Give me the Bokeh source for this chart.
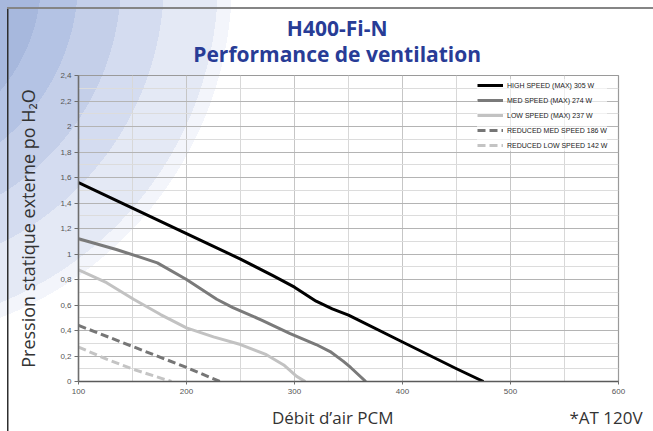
from bokeh.plotting import figure
from bokeh.models import Range1d, FixedTicker, Legend, LinearAxis
from bokeh.embed import file_html
from bokeh.resources import INLINE

# ---------------- data ----------------
title_1 = "H400-Fi-N"
title_2 = "Performance de ventilation"
x_label = "Débit d’air PCM"
y_label = "Pression statique externe po H₂O"
note = "*AT 120V"

x_ticks = [100, 200, 300, 400, 500, 600]
x_minor = [150, 250, 350, 450, 550]
y_ticks = [0, 0.2, 0.4, 0.6, 0.8, 1, 1.2, 1.4, 1.6, 1.8, 2, 2.2, 2.4]
y_tick_labels = ["0", "0,2", "0,4", "0,6", "0,8", "1", "1,2", "1,4", "1,6", "1,8", "2", "2,2", "2,4"]
y_minor = [0.1, 0.3, 0.5, 0.7, 0.9, 1.1, 1.3, 1.5, 1.7, 1.9, 2.1, 2.3]

high_name = "HIGH SPEED (MAX) 305 W"
high_x = [100, 150, 200, 250, 280, 300, 320, 335, 350, 400, 450, 475]
high_y = [1.56, 1.36, 1.16, 0.96, 0.83, 0.74, 0.63, 0.57, 0.52, 0.31, 0.10, 0.0]

med_name = "MED SPEED (MAX) 274 W"
med_x = [100, 135, 157, 173, 200, 228, 243, 270, 296, 320, 333, 345, 352, 366]
med_y = [1.12, 1.035, 0.975, 0.93, 0.80, 0.645, 0.58, 0.48, 0.375, 0.29, 0.235, 0.16, 0.11, 0.0]

low_name = "LOW SPEED (MAX) 237 W"
low_x = [100, 126, 151, 176, 200, 225, 250, 274, 290, 302, 310]
low_y = [0.875, 0.775, 0.645, 0.525, 0.42, 0.35, 0.29, 0.21, 0.13, 0.04, 0.0]

rmed_name = "REDUCED MED SPEED 186 W"
rmed_x = [100, 150, 200, 231]
rmed_y = [0.44, 0.275, 0.11, 0.0]

rlow_name = "REDUCED LOW SPEED 142 W"
rlow_x = [100, 126, 151, 186]
rlow_y = [0.27, 0.175, 0.095, 0.0]

# ---------------- figure ----------------
p = figure(width=653, height=431, output_backend="svg", toolbar_location=None,
           x_range=Range1d(100, 600), y_range=Range1d(0, 2.4),
           min_border_left=78, min_border_right=35, min_border_top=75, min_border_bottom=49)
p.border_fill_color = None
p.background_fill_color = None
p.outline_line_color = "#9a9a9a"
p.outline_line_width = 1.2

p.xaxis.ticker = FixedTicker(ticks=x_ticks, minor_ticks=x_minor)
p.yaxis.ticker = FixedTicker(ticks=y_ticks, minor_ticks=y_minor)
p.yaxis.major_label_overrides = dict(zip(y_ticks, y_tick_labels))

for ax in (p.xaxis, p.yaxis):
    ax.major_label_text_font = "Liberation Sans"
    ax.major_label_text_font_size = "8px"
    ax.major_label_text_color = "#555555"
    ax.minor_tick_line_color = None
    ax.major_tick_in = 0
    ax.axis_line_width = 1.5
p.yaxis.axis_line_color = "#6e6e6e"
p.xaxis.axis_line_color = "#5a5a5a"
p.yaxis.major_tick_out = 4
p.xaxis.major_tick_out = 3
p.yaxis.major_tick_line_color = "#6e6e6e"
p.xaxis.major_tick_line_color = "#6e6e6e"
p.yaxis.major_label_standoff = 3
p.xaxis.major_label_standoff = 3

p.yaxis.axis_label = y_label
p.yaxis.axis_label_text_font = "Open Sans"
p.yaxis.axis_label_text_font_style = "normal"
p.yaxis.axis_label_text_font_size = "18px"
p.yaxis.axis_label_text_color = "#333333"
p.yaxis.axis_label_standoff = 17

p.xgrid.grid_line_color = "#c6c6c6"
p.xgrid.minor_grid_line_color = "#d8d8d8"
p.ygrid.grid_line_color = "#b4b4b4"
p.ygrid.minor_grid_line_color = "#dcdcdc"


def text_axis(ticks, labels, size, color, standoff, bold=False):
    ax = LinearAxis(ticker=FixedTicker(ticks=ticks),
                    major_label_overrides=dict(zip(ticks, labels)))
    ax.axis_line_color = None
    ax.major_tick_line_color = None
    ax.minor_tick_line_color = None
    ax.major_tick_out = 0
    ax.major_tick_in = 0
    ax.major_label_text_font = "Open Sans"
    ax.major_label_text_font_style = "bold" if bold else "normal"
    ax.major_label_text_font_size = size
    ax.major_label_text_color = color
    ax.major_label_standoff = standoff
    return ax


# title lines (inner first) and footer texts, carried by tick-free axes
p.add_layout(text_axis([339.5], [title_2], "21px", "#283c96", 8, bold=True), "above")
p.add_layout(text_axis([339.5], [title_1], "21px", "#283c96", -5, bold=True), "above")
p.add_layout(text_axis([335.4, 588.4], [x_label, note], "17px", "#333333", 9), "below")

series = [
    (high_name, high_x, high_y, "#000000", "solid"),
    (med_name, med_x, med_y, "#7a7a7a", "solid"),
    (low_name, low_x, low_y, "#c2c2c2", "solid"),
    (rmed_name, rmed_x, rmed_y, "#767676", "8 4"),
    (rlow_name, rlow_x, rlow_y, "#c4c4c4", "8 4"),
]
items = []
for name, xs, ys, col, dash in series:
    r = p.line(xs, ys, line_width=3, line_color=col, line_dash=dash, line_join="round")
    items.append((name, [r]))

legend = Legend(items=items, location=(399, 230))
legend.label_text_font = "Liberation Sans"
legend.label_text_font_size = "7px"
legend.label_text_color = "#222222"
legend.glyph_width = 26
legend.glyph_height = 12
legend.label_height = 12
legend.label_standoff = 4
legend.spacing = 3
legend.padding = 4
legend.margin = 0
legend.border_line_color = None
legend.background_fill_color = "white"
legend.background_fill_alpha = 0.6
p.add_layout(legend, "center")

html = file_html(p, INLINE, title="H400-Fi-N")
style = """<style>
html, body { background:
  linear-gradient(#858585, #858585) 7px 7px / 646px 2px no-repeat,
  linear-gradient(#2e2e2e, #2e2e2e) 6.5px 7px / 1.5px 424px no-repeat,
  radial-gradient(circle at -130px -20px,
    #a7b8dd 0px 171px, #b4c3e4 171px 208px, #c4cfe9 208px 251px,
    #d4dcf0 251px 294px, #e4e9f5 294px 348px, #f3f5fb 348px 362px, #ffffff 362px);
}
</style>
</head>"""
html = html.replace("</head>", style, 1)
open("out.html", "w").write(html)
